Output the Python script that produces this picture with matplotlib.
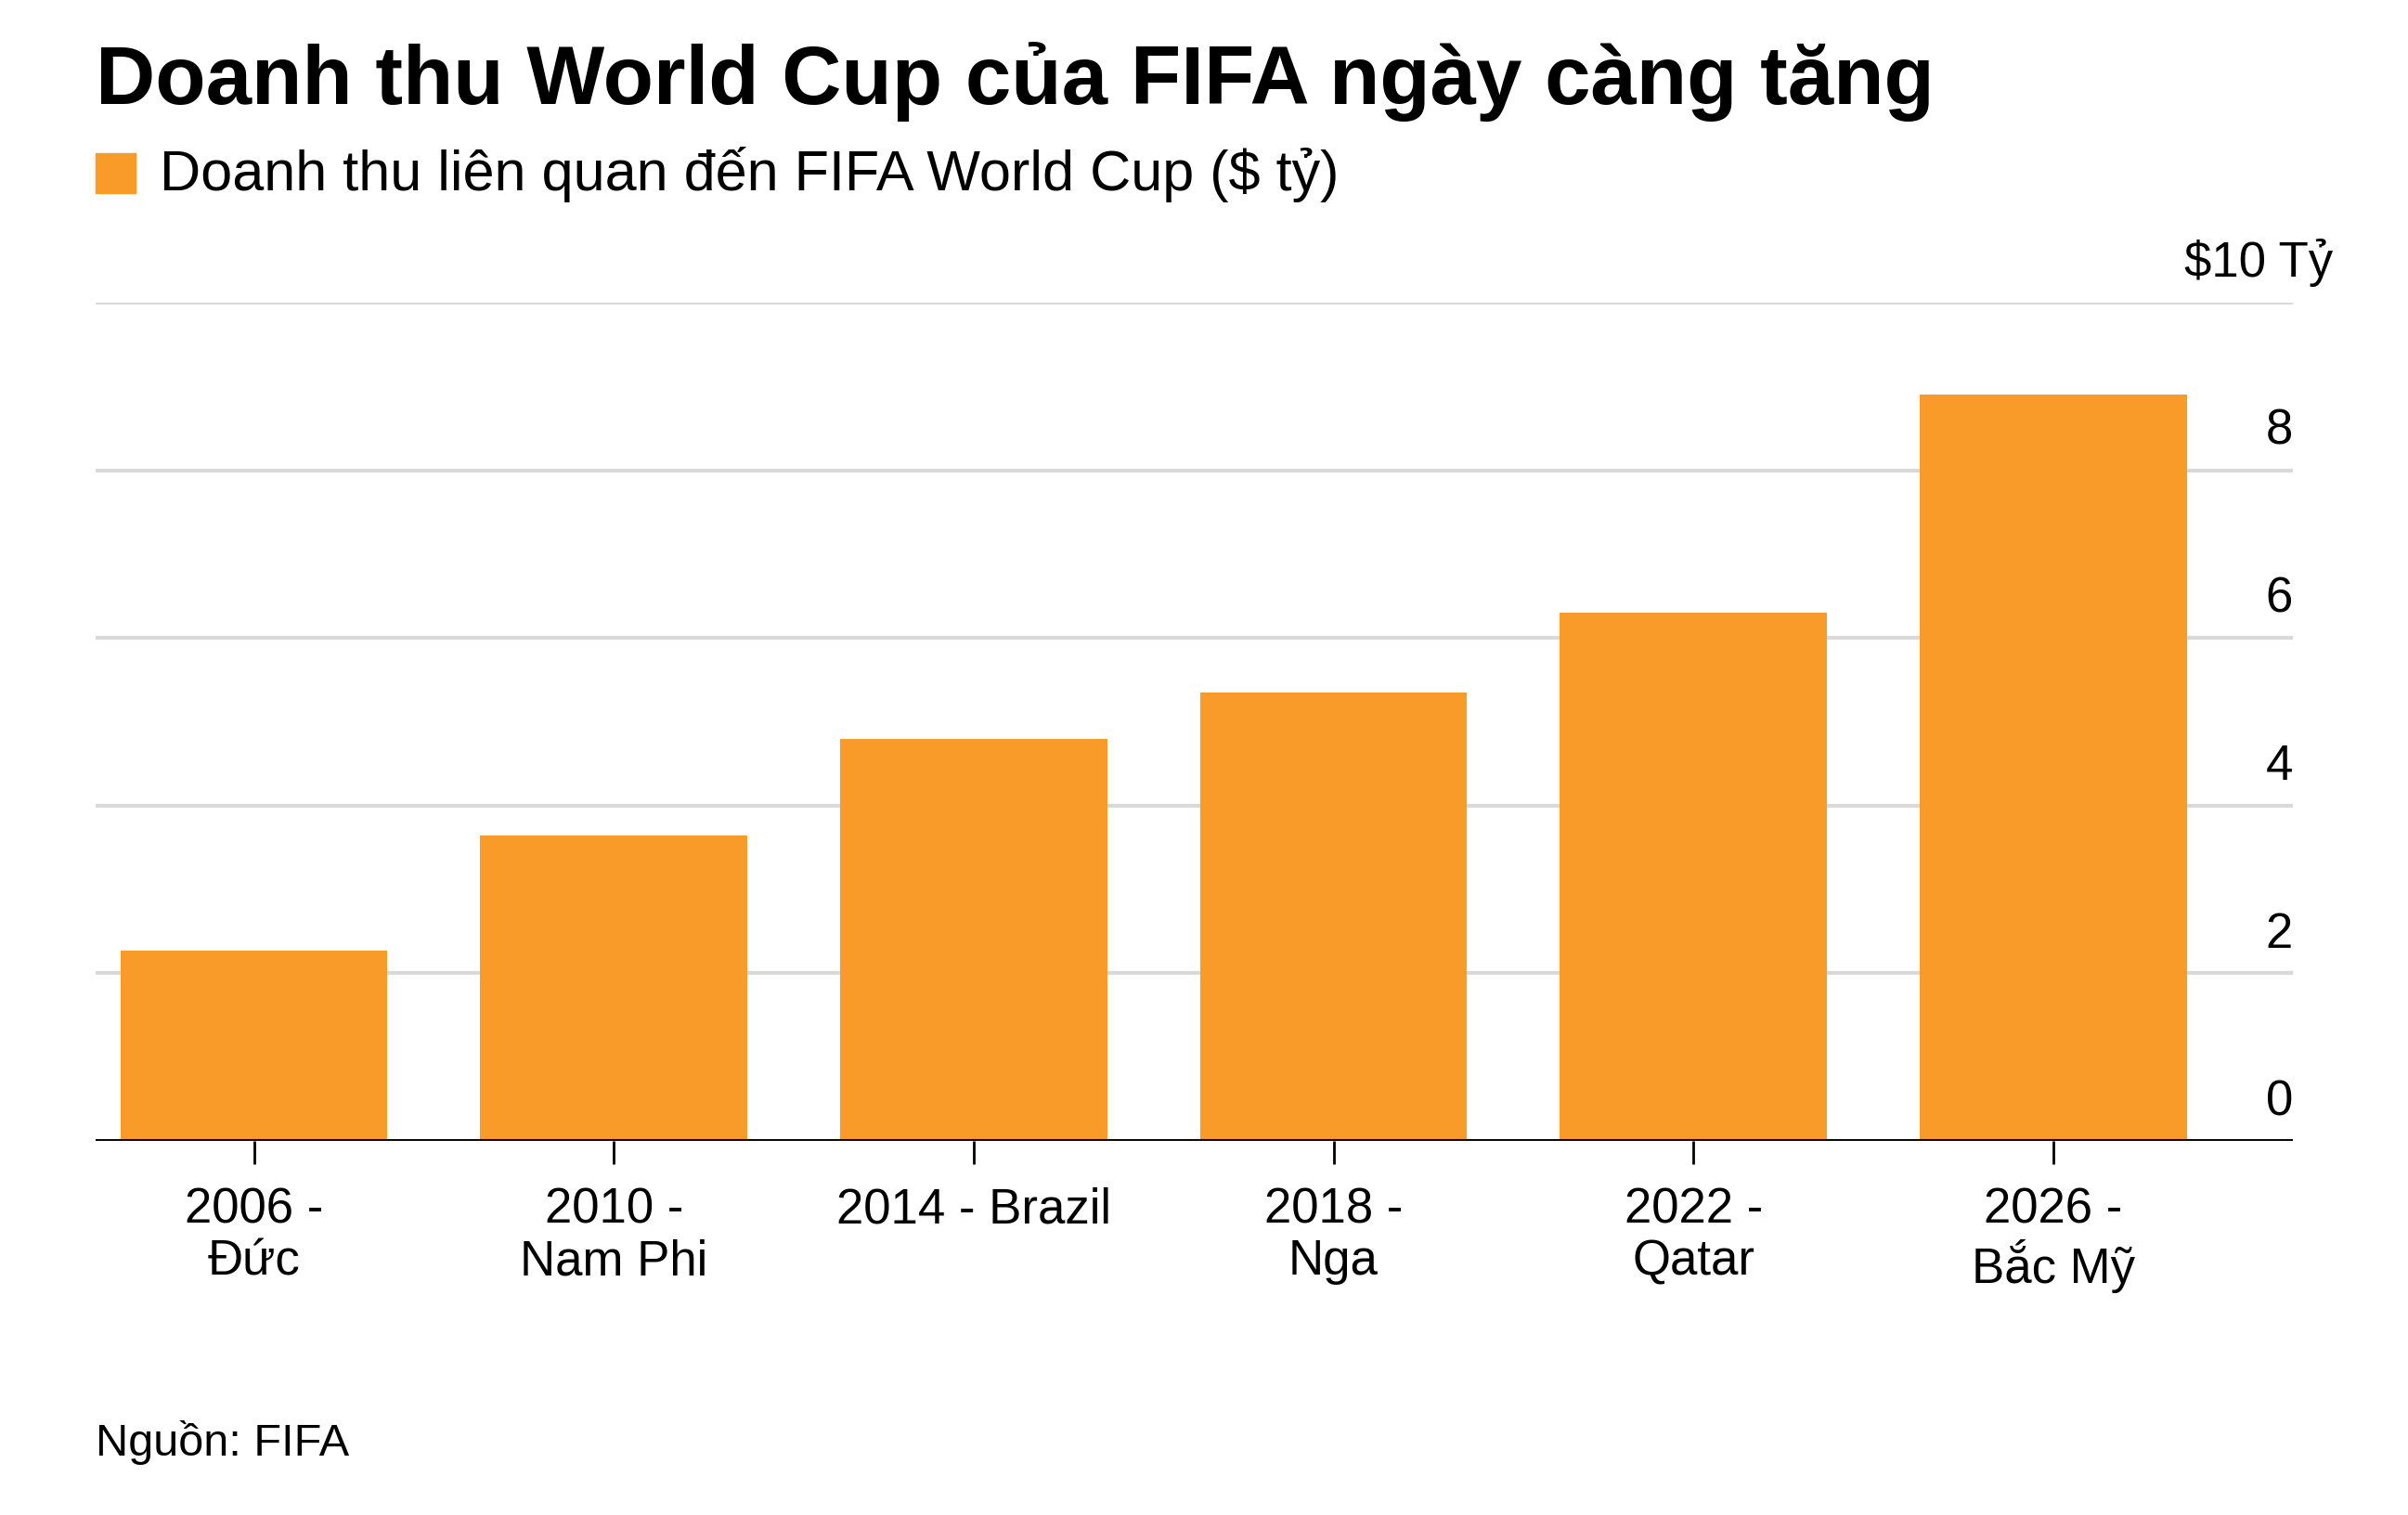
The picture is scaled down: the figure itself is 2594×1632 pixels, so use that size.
import matplotlib.pyplot as plt
from matplotlib.patches import Rectangle

# Data (billion USD)
labels = ["2006 -\nĐức", "2010 -\nNam Phi", "2014 - Brazil", "2018 -\nNga", "2022 -\nQatar", "2026 -\nBắc Mỹ"]
revenue = [2.27, 3.64, 4.8, 5.35, 6.3, 8.9]
yticks = [0, 2, 4, 6, 8, 10]
ytick_labels = ["0", "2", "4", "6", "8", "$10 Tỷ"]

bar_color = "#F99B28"
grid_color = "#D9D9D9"

plt.rcParams["font.family"] = ["Liberation Sans", "DejaVu Sans"]

W, H = 2594, 1632
fig = plt.figure(figsize=(W / 100, H / 100), dpi=100)
fig.patch.set_facecolor("white")

ax = fig.add_axes([103 / W, 1 - 1229 / H, (2470 - 103) / W, (1229 - 326) / H])
x = list(range(len(labels)))
ax.bar(x, revenue, width=0.742, color=bar_color, zorder=3)

ax.set_xlim(-0.44, 5.666)
ax.set_ylim(0, 10)

# gridlines
for v in yticks[1:]:
    ax.axhline(v, color=grid_color, lw=3, zorder=1)
ax.axhline(0, color="black", lw=3.5, zorder=4)

# right-hand value labels sitting above gridlines
for v, lab in zip(yticks, ytick_labels):
    dx = 31 if v == 10 else 0
    ax.annotate(lab, xy=(1.0, v), xycoords=ax.get_yaxis_transform(),
                xytext=(dx, 12), textcoords="offset points",
                ha="right", va="bottom", fontsize=38, color="black")

for s in ax.spines.values():
    s.set_visible(False)
ax.set_yticks([])
ax.set_xticks(x)
ax.set_xticklabels(labels, fontsize=38, linespacing=1.13)
ax.tick_params(axis="x", length=18, width=2, color="black", pad=18)

# title, legend, source
fig.text(103 / W, 1 - 112 / H, "Doanh thu World Cup của FIFA ngày càng tăng",
         fontsize=64, fontweight="bold", va="baseline", ha="left")
fig.patches.append(Rectangle((103 / W, 1 - 208 / H), 43 / W, 43 / H,
                             transform=fig.transFigure, color=bar_color))
fig.text(172 / W, 1 - 205 / H, "Doanh thu liên quan đến FIFA World Cup ($ tỷ)",
         fontsize=44, va="baseline", ha="left")
fig.text(103 / W, 1 - 1568 / H, "Nguồn: FIFA", fontsize=35, va="baseline", ha="left")

fig.savefig("out.png", dpi=100)
